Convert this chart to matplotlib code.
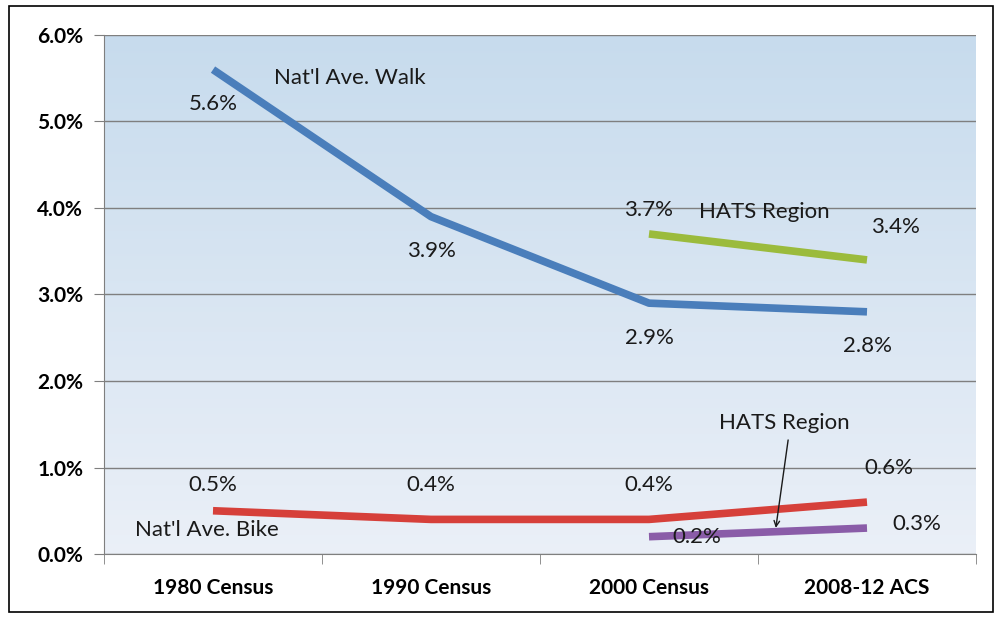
import numpy as np
import matplotlib.pyplot as plt
from matplotlib.patches import Rectangle

categories = ['1980 Census', '1990 Census', '2000 Census', '2008-12 ACS']
walk_nat = [5.6, 3.9, 2.9, 2.8]
bike_nat = [0.5, 0.4, 0.4, 0.6]
walk_hats = [np.nan, np.nan, 3.7, 3.4]
bike_hats = [np.nan, np.nan, 0.2, 0.3]
yticks = [0, 1, 2, 3, 4, 5, 6]

plt.rcParams['font.family'] = ['Lato', 'DejaVu Sans']

fig = plt.figure(figsize=(9.99, 6.19), dpi=100)
ax = fig.add_axes([104/999, 65/619, 872/999, 519/619])

# gradient background of the plot area
grad = np.linspace(0, 1, 256).reshape(-1, 1)
top = np.array([0.78, 0.86, 0.93])
bot = np.array([0.92, 0.94, 0.97])
img = bot + (top - bot) * grad
ax.imshow(img.reshape(256, 1, 3), extent=[-0.5, 3.5, 0, 6], origin='lower',
          aspect='auto', zorder=0)

x = np.arange(len(categories))
lw = 5.5
ax.plot(x, walk_nat, color='#4a7ebb', lw=lw, solid_capstyle='butt', zorder=3)
ax.plot(x, bike_nat, color='#d6403a', lw=lw, solid_capstyle='butt', zorder=3)
ax.plot(x, walk_hats, color='#9bbb3c', lw=lw, solid_capstyle='butt', zorder=3)
ax.plot(x, bike_hats, color='#8a5ca8', lw=lw, solid_capstyle='butt', zorder=3)

fs = 16
def lab(xi, v, dx, dy):
    ax.text(xi + dx, v + dy, f'{v:.1f}%', fontsize=fs, ha='center', va='center',
            color='#1a1a1a', zorder=4)

for i, v in enumerate(walk_nat):
    lab(i, v, 0, -0.4)
for i, v in enumerate(bike_nat[:3]):
    lab(i, v, 0, 0.3 if i == 0 else 0.4)
lab(3, bike_nat[3], 0.1, 0.4)
lab(2, walk_hats[2], 0, 0.28)
lab(3, walk_hats[3], 0.13, 0.38)
lab(2, bike_hats[2], 0.22, 0.0)
lab(3, bike_hats[3], 0.23, 0.05)

ax.text(0.28, 5.5, "Nat'l Ave. Walk", fontsize=fs, ha='left', va='center', color='#1a1a1a')
ax.text(2.23, 3.95, 'HATS Region', fontsize=fs, ha='left', va='center', color='#1a1a1a')
ax.text(-0.36, 0.28, "Nat'l Ave. Bike", fontsize=fs, ha='left', va='center', color='#1a1a1a')
ax.text(2.62, 1.52, 'HATS Region', fontsize=fs, ha='center', va='center', color='#1a1a1a')
ax.annotate('', xy=(2.58, 0.27), xytext=(2.64, 1.35),
            arrowprops=dict(arrowstyle='->', color='#1a1a1a', lw=1.0))

ax.set_xlim(-0.5, 3.5)
ax.set_ylim(0, 6)
ax.set_yticks(yticks)
ax.set_yticklabels([f'{t:.1f}%' for t in yticks], fontsize=15, fontweight='bold')
ax.yaxis.grid(True, color='#7f7f7f', lw=1.0)
for gl in ax.get_ygridlines():
    gl.set_zorder(1)
ax.set_xticks(x)
ax.set_xticklabels(categories, fontsize=15, fontweight='bold')
ax.tick_params(axis='x', length=0, pad=17)
ax.set_xticks(np.arange(-0.5, 4, 1), minor=True)
ax.tick_params(axis='x', which='minor', length=7, color='#7f7f7f')
ax.tick_params(axis='y', length=7, color='#7f7f7f', pad=8)
for s in ['top', 'right']:
    ax.spines[s].set_visible(False)
for s in ['left', 'bottom']:
    ax.spines[s].set_color('#7f7f7f')

fig.patches.append(Rectangle((9/999, 7/619), 984/999, 606/619, transform=fig.transFigure,
                             fill=False, edgecolor='black', lw=1.2))

fig.savefig('out.png', dpi=100)
